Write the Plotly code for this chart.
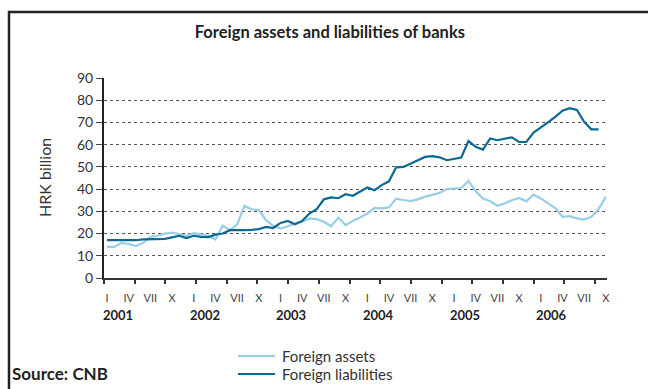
import plotly.graph_objects as go

# Month index 0 = January 2001
years = ["2001", "2002", "2003", "2004", "2005", "2006"]
quarter_labels = ["I", "IV", "VII", "X"]

foreign_assets = [
    14.0, 14.0, 15.8, 15.3, 14.4, 15.8, 18.5, 19.0, 20.0, 20.4, 19.7, 19.0,
    20.2, 19.5, 19.0, 17.3, 23.6, 21.5, 24.0, 32.5, 30.9, 30.6, 26.0, 23.5,
    22.2, 23.3, 24.5, 25.3, 26.8, 26.5, 25.3, 23.3, 27.2, 23.8, 25.7, 27.2,
    29.0, 31.6, 31.3, 31.8, 35.7, 35.1, 34.6, 35.4, 36.6, 37.4, 38.3, 40.0,
    40.2, 40.5, 43.7, 39.0, 35.8, 34.5, 32.5, 33.5, 35.0, 36.0, 34.5, 37.5,
    35.8, 33.5, 31.5, 27.5, 27.8, 26.8, 26.3, 27.5, 31.0, 36.6,
]
foreign_liabilities = [
    17.0, 17.0, 17.0, 17.0, 17.0, 17.4, 17.5, 17.5, 17.6, 18.3, 19.0, 18.0,
    19.0, 18.5, 18.4, 19.5, 20.0, 21.5, 21.4, 21.5, 21.7, 22.0, 23.0, 22.5,
    24.8, 25.7, 24.2, 25.7, 29.0, 31.0, 35.4, 36.3, 35.9, 37.7, 37.0, 38.9,
    40.7, 39.5, 41.8, 43.5, 49.8, 50.0, 51.5, 53.0, 54.5, 54.8, 54.3, 53.0,
    53.5, 54.2, 61.6, 59.0, 57.8, 62.8, 62.0, 62.5, 63.3, 61.2, 61.2, 65.4,
    67.5, 70.0, 72.5, 75.3, 76.4, 75.6, 70.3, 66.9, 66.9,
]
series_names = ["Foreign assets", "Foreign liabilities"]

LIGHT = "#98cde6"
DARK = "#0b6a93"
TEXT = "#333333"
FONT = "Lato"

# Plot area in pixels (used to place the decorations in paper units)
PL, PR, PT, PB = 104, 607, 78, 278


def px_x(x):
    return (x - PL) / (PR - PL)


def px_y(y):
    return (PB - y) / (PB - PT)


months_assets = list(range(len(foreign_assets)))
months_liab = list(range(len(foreign_liabilities)))

quarter_ticks = [12 * i + 3 * q for i in range(len(years)) for q in range(4)]
quarter_text = quarter_labels * len(years)

fig = go.Figure()
fig.add_trace(go.Scatter(
    x=months_assets, y=foreign_assets, mode="lines", name=series_names[0],
    line=dict(color=LIGHT, width=2.2),
))
fig.add_trace(go.Scatter(
    x=months_liab, y=foreign_liabilities, mode="lines", name=series_names[1],
    line=dict(color=DARK, width=2.2),
))

x_min, x_max = -0.415, 69.16

fig.update_layout(
    width=648, height=389,
    margin=dict(l=PL, r=648 - PR, t=PT, b=389 - PB, autoexpand=False),
    paper_bgcolor="white", plot_bgcolor="white",
    font=dict(family=FONT, color=TEXT, size=14),
    title=dict(
        text="<b>Foreign assets and liabilities of banks</b>",
        x=0.509, xanchor="center", y=1 - 32 / 389, yanchor="middle",
        font=dict(family=FONT, size=16.5, color="#222222"),
    ),
    xaxis=dict(
        range=[x_min, x_max], tickmode="array",
        tickvals=quarter_ticks, ticktext=quarter_text,
        ticks="", ticklabelstandoff=9,
        tickfont=dict(size=11, color="#444444"),
        showgrid=False, zeroline=False,
        showline=True, linecolor="#333333", linewidth=2,
        minor=dict(ticks="outside", tick0=x_min + 0.005, dtick=4.245,
                   ticklen=4, tickwidth=1.5, tickcolor="#333333", showgrid=False),
    ),
    yaxis=dict(
        range=[0, 90], dtick=10, tick0=0,
        ticks="outside", ticklen=6, tickwidth=1, tickcolor="#444444",
        tickfont=dict(size=14, color=TEXT),
        showgrid=True, gridcolor="#555555", gridwidth=1.3, griddash="dot",
        zeroline=False,
        showline=True, linecolor="#222222", linewidth=2,
    ),
    showlegend=False,
)

# Year labels centred under each year's first two quarter labels
for i, yr in enumerate(years):
    fig.add_annotation(
        x=12 * i + 1.5, xref="x", y=px_y(315), yref="paper",
        text=f"<b>{yr}</b>", showarrow=False,
        font=dict(size=13, color="#222222"), xanchor="center", yanchor="middle",
    )

# Vertical axis title
fig.add_annotation(
    x=px_x(44), xref="paper", y=0.5, yref="paper",
    text="HRK billion", textangle=-90, showarrow=False,
    font=dict(size=16, color=TEXT), xanchor="center", yanchor="middle",
)

# Legend: line samples and labels beneath the chart
for name, color, ly in zip(series_names, [LIGHT, DARK], [356, 374]):
    fig.add_shape(
        type="line", xref="paper", yref="paper",
        x0=px_x(238), x1=px_x(275), y0=px_y(ly), y1=px_y(ly),
        line=dict(color=color, width=2.2),
    )
    fig.add_annotation(
        x=px_x(280), xref="paper", y=px_y(ly), yref="paper",
        text=name, showarrow=False,
        font=dict(size=15, color=TEXT), xanchor="left", yanchor="middle",
    )

# Source note
fig.add_annotation(
    x=px_x(10), xref="paper", y=px_y(373), yref="paper",
    text="<b>Source: CNB</b>", showarrow=False,
    font=dict(size=17, color="#222222"), xanchor="left", yanchor="middle",
)

# Frame around the chart panel
fig.add_shape(
    type="rect", xref="paper", yref="paper",
    x0=px_x(9), x1=px_x(660), y0=px_y(400), y1=px_y(12),
    line=dict(color="#222222", width=2.5), fillcolor="rgba(0,0,0,0)",
    layer="below",
)

fig.write_html("out.html")
